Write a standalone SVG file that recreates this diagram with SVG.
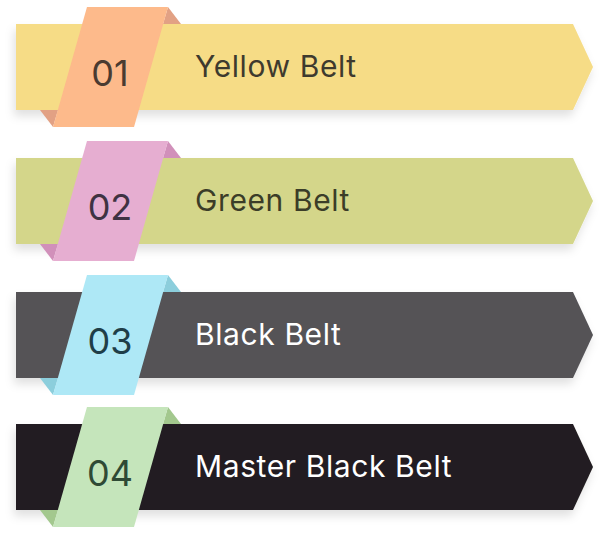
<svg xmlns="http://www.w3.org/2000/svg" width="600" height="536" viewBox="0 0 600 536">
<defs>
<filter id="sh" x="-10%" y="-20%" width="120%" height="160%">
<feDropShadow dx="-2" dy="6" stdDeviation="5" flood-color="#000" flood-opacity="0.12"/>
</filter>
</defs>
<style>
.band{filter:url(#sh)}
.num{font-family:Inter,"Liberation Sans",sans-serif;font-size:36px;text-anchor:middle}
.lbl{font-family:Inter,"Liberation Sans",sans-serif;font-size:30px;letter-spacing:0.6px}
</style>
<rect width="600" height="536" fill="#fff"/>
<g id="node1" transform="translate(0,24)">
<path class="band" d="M16 0H573L593 43L573 86H16Z" fill="#F6DC86"/>
<path d="M168 -17L181 0H163Z" fill="#E2A184"/>
<path d="M40 86H58L53 103Z" fill="#E2A184"/>
<path d="M87 -17H168L134 103H53Z" fill="#FDBA8B"/>
<text class="num" x="110" y="62" fill="#4A3B31">01</text>
<text class="lbl" x="195" y="53" fill="#3E3A2E">Yellow Belt</text>
</g>
<g id="node2" transform="translate(0,158)">
<path class="band" d="M16 0H573L593 43L573 86H16Z" fill="#D4D68A"/>
<path d="M168 -17L181 0H163Z" fill="#D190BA"/>
<path d="M40 86H58L53 103Z" fill="#D190BA"/>
<path d="M87 -17H168L134 103H53Z" fill="#E6AED1"/>
<text class="num" x="110" y="62" fill="#3F3242">02</text>
<text class="lbl" x="195" y="53" fill="#3B3D28">Green Belt</text>
</g>
<g id="node3" transform="translate(0,292)">
<path class="band" d="M16 0H573L593 43L573 86H16Z" fill="#545357"/>
<path d="M168 -17L181 0H163Z" fill="#8CCEDC"/>
<path d="M40 86H58L53 103Z" fill="#8CCEDC"/>
<path d="M87 -17H168L134 103H53Z" fill="#AEE8F6"/>
<text class="num" x="110" y="62" fill="#1F3E48">03</text>
<text class="lbl" x="195" y="53" fill="#FFFFFF">Black Belt</text>
</g>
<g id="node4" transform="translate(0,424)">
<path class="band" d="M16 0H573L593 43L573 86H16Z" fill="#231F20"/>
<path d="M168 -17L181 0H163Z" fill="#A3C88E"/>
<path d="M40 86H58L53 103Z" fill="#A3C88E"/>
<path d="M87 -17H168L134 103H53Z" fill="#C5E5BB"/>
<text class="num" x="110" y="62" fill="#2F4A35">04</text>
<text class="lbl" x="195" y="53" fill="#FFFFFF">Master Black Belt</text>
</g>
<g id="connectors"/>
</svg>
